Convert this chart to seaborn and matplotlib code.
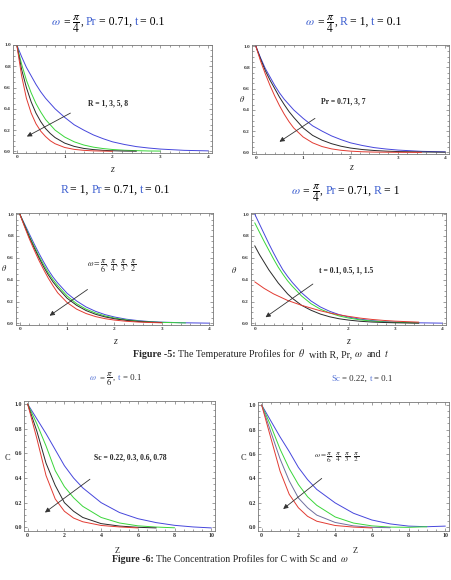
import numpy as np
import pandas as pd
import matplotlib
matplotlib.use("Agg")
import matplotlib.pyplot as plt
from matplotlib.ticker import FormatStrFormatter
import seaborn as sns

# ---------------- data ----------------
z_theta = [0, 0.1, 0.2, 0.3, 0.4, 0.5, 0.6, 0.7, 0.8, 1.0, 1.2, 1.4, 1.6, 1.8,
           2.0, 2.25, 2.5, 2.75, 3.0, 3.5, 4.0]

# panel 1 : R = 1, 3, 5, 8
p1_blue = [1.0, 0.89, 0.79, 0.71, 0.63, 0.56, 0.50, 0.45, 0.40, 0.32, 0.25, 0.20,
           0.155, 0.12, 0.09, 0.065, 0.045, 0.032, 0.022, 0.01, 0.005]
p1_green = [1.0, 0.82, 0.67, 0.55, 0.45, 0.37, 0.30, 0.25, 0.20, 0.135, 0.09,
            0.06, 0.04, 0.027, 0.018, 0.011, 0.007, 0.004, 0.003]
p1_black = [1.0, 0.77, 0.60, 0.465, 0.36, 0.28, 0.215, 0.168, 0.13, 0.078, 0.047,
            0.028, 0.017, 0.01, 0.006, 0.003, 0.002]
p1_red = [1.0, 0.71, 0.50, 0.36, 0.26, 0.19, 0.14, 0.10, 0.072, 0.037, 0.019,
          0.01, 0.005, 0.003, 0.001]

# panel 2 : Pr = 0.71, 3, 7
p2_blue = p1_blue
p2_black = [1.0, 0.88, 0.77, 0.68, 0.60, 0.52, 0.45, 0.385, 0.33, 0.23, 0.16,
            0.115, 0.082, 0.058, 0.041, 0.027, 0.018, 0.012, 0.008, 0.004, 0.002]
p2_red = [1.0, 0.86, 0.74, 0.63, 0.53, 0.44, 0.36, 0.29, 0.23, 0.145, 0.09,
          0.055, 0.033, 0.02, 0.012, 0.006, 0.003, 0.002, 0.001, 0.0]

# panel 3 : omega = pi/6, pi/4, pi/3, pi/2
p3_blue = [1.0, 0.91, 0.82, 0.73, 0.645, 0.565, 0.49, 0.425, 0.37, 0.275, 0.205,
           0.15, 0.11, 0.08, 0.058, 0.038, 0.025, 0.016, 0.011, 0.005, 0.002]
p3_green = [1.0, 0.90, 0.80, 0.71, 0.62, 0.54, 0.465, 0.40, 0.345, 0.25, 0.18,
            0.13, 0.095, 0.068, 0.049, 0.032, 0.021, 0.013, 0.009, 0.004]
p3_black = [1.0, 0.895, 0.79, 0.695, 0.605, 0.52, 0.445, 0.38, 0.325, 0.23,
            0.165, 0.117, 0.083, 0.059, 0.042, 0.027, 0.017, 0.011, 0.007]
p3_red = [1.0, 0.885, 0.775, 0.675, 0.58, 0.495, 0.415, 0.345, 0.28, 0.19, 0.13,
          0.09, 0.062, 0.043, 0.03, 0.019, 0.012, 0.008, 0.005]

# panel 4 : t = 0.1, 0.5, 1, 1.5
p4_blue = [1.0, 0.91, 0.82, 0.73, 0.645, 0.565, 0.49, 0.43, 0.375, 0.28, 0.205,
           0.15, 0.11, 0.08, 0.058, 0.038, 0.025, 0.016, 0.011, 0.005, 0.002]
p4_green = [0.92, 0.835, 0.75, 0.67, 0.59, 0.515, 0.45, 0.39, 0.34, 0.25, 0.18,
            0.13, 0.095, 0.068, 0.049, 0.032, 0.021, 0.013, 0.009, 0.004]
p4_black = [0.71, 0.63, 0.56, 0.49, 0.43, 0.37, 0.32, 0.27, 0.23, 0.165, 0.12,
            0.085, 0.06, 0.042, 0.03, 0.019, 0.012, 0.008, 0.005, 0.002]
p4_red = [0.38, 0.35, 0.32, 0.295, 0.27, 0.25, 0.23, 0.21, 0.195, 0.165, 0.14,
          0.115, 0.095, 0.078, 0.064, 0.048, 0.036, 0.027, 0.02, 0.011]

z_conc = [0, 0.5, 1, 1.5, 2, 2.5, 3, 4, 5, 6, 7, 8, 9, 10]

# panel 5 : Sc = 0.22, 0.3, 0.6, 0.78
p5_blue = [1.0, 0.88, 0.76, 0.63, 0.50, 0.40, 0.32, 0.20, 0.12, 0.07, 0.038,
           0.016, 0.003, -0.005]
p5_green = [1.0, 0.84, 0.66, 0.46, 0.33, 0.24, 0.17, 0.08, 0.035, 0.012, 0.002, -0.004]
p5_black = [1.0, 0.78, 0.52, 0.34, 0.20, 0.13, 0.08, 0.03, 0.01, 0.0, -0.005]
p5_red = [1.0, 0.72, 0.42, 0.23, 0.13, 0.075, 0.045, 0.015, 0.003, -0.005]

# panel 6 : omega = pi/6, pi/4, pi/3, pi/2
p6_blue = [1.0, 0.87, 0.74, 0.62, 0.49, 0.39, 0.31, 0.20, 0.115, 0.06, 0.028,
           0.01, 0.005, 0.01]
p6_green = [1.0, 0.83, 0.64, 0.48, 0.35, 0.25, 0.18, 0.085, 0.035, 0.012, 0.002, 0.0, 0.005]
p6_slate = [1.0, 0.78, 0.56, 0.38, 0.24, 0.16, 0.10, 0.04, 0.012, 0.0, -0.003]
p6_red = [1.0, 0.73, 0.46, 0.27, 0.16, 0.09, 0.05, 0.015, 0.002, -0.005]

RED, BLACK, GREEN, BLUE, SLATE = "#e23b32", "#2a2a2a", "#3ad63a", "#4646dc", "#6f6f9e"
TBLUE = "#3d5fd0"

# ---------------- style ----------------
sns.set_theme(style="ticks")
plt.rcParams['font.family'] = ['Liberation Serif', 'DejaVu Serif']
plt.rcParams['mathtext.fontset'] = 'stix'

W, H = 452, 580
fig = plt.figure(figsize=(W / 100, H / 100), dpi=100)
fig.patch.set_facecolor("white")


def add_ax(l, t, r, b):
    return fig.add_axes([l / W, 1 - b / H, (r - l) / W, (b - t) / H])


def frame(ax, xlim, ylim, xmaj, xmin, ymaj, ymin, fs, xfmt='%d'):
    ax.set_xlim(*xlim)
    ax.set_ylim(*ylim)
    ax.set_xticks(xmaj)
    ax.set_xticks(xmin, minor=True)
    ax.set_yticks(ymaj)
    ax.set_yticks(ymin, minor=True)
    ax.xaxis.set_major_formatter(FormatStrFormatter(xfmt))
    ax.yaxis.set_major_formatter(FormatStrFormatter('%.1f'))
    ax.tick_params(which='both', direction='in', top=True, right=True,
                   width=0.4, color='#555555', labelsize=fs, pad=1.5,
                   labelcolor='#333333')
    ax.tick_params(which='major', length=2.4)
    ax.tick_params(which='minor', length=1.2)
    for s in ax.spines.values():
        s.set_linewidth(0.6)
        s.set_color('#777777')
    ax.set_xlabel("")
    ax.set_ylabel("")
    for lab in ax.get_xticklabels() + ax.get_yticklabels():
        lab.set_fontweight('bold')


def curves(ax, z, series):
    for vals, col in series:
        sns.lineplot(x=z[:len(vals)], y=vals, color=col, lw=0.7, ax=ax,
                     estimator=None, sort=False, legend=False)


def arrow(ax, start, end):
    ax.annotate('', xy=end, xytext=start,
                arrowprops=dict(arrowstyle='-|>', color='#333333', lw=0.6,
                                mutation_scale=7, shrinkA=0, shrinkB=0))


def color_text(xc, yb, pieces, size, **kw):
    r = fig.canvas.get_renderer()
    items = []
    for p in pieces:
        s, opts = p[0], dict(p[1]) if len(p) > 1 else {}
        gap = opts.pop('gap', 2.4)
        t = fig.text(0, 0, s, fontsize=size, va='baseline', ha='left',
                     **{**kw, **opts})
        items.append((t, t.get_window_extent(r).width, gap))
    total = sum(w for _, w, _ in items) + sum(g for _, _, g in items[1:])
    x = xc - total / 2
    for i, (t, w, g) in enumerate(items):
        if i:
            x += g
        t.set_position((x / W, 1 - yb / H))
        x += w


B = dict(color=TBLUE)
K = dict(color='black')
frac4 = r'$\dfrac{\pi}{4}$'
omegas = r'$\omega = \dfrac{\pi}{6},\ \dfrac{\pi}{4},\ \dfrac{\pi}{3},\ \dfrac{\pi}{2}$'

xth = dict(xlim=(-0.08, 4.08), xmaj=[0, 1, 2, 3, 4], xmin=np.arange(0, 4.01, 0.2),
           ymaj=np.arange(0, 1.01, 0.2), ymin=np.arange(0, 1.01, 0.05), fs=3.8)

# ---------------- panel 1 ----------------
ax1 = add_ax(13, 45, 212, 153)
curves(ax1, z_theta, [(p1_blue, BLUE), (p1_green, GREEN), (p1_black, BLACK), (p1_red, RED)])
frame(ax1, ylim=(-0.015, 1.0), **xth)
arrow(ax1, (1.12, 0.36), (0.21, 0.14))
ax1.text(1.9, 0.45, "R = 1, 3, 5, 8", fontsize=5.5, fontweight='bold', ha='center', va='center')
color_text(108, 25, [(r'$\omega$', B), ('=', K), (frac4, K), (',', dict(gap=0)), ('Pr', B),
                     ('= 0.71,', K), ('t', B), ('= 0.1', K)], 8.5)
fig.text(112 / W, 1 - 169 / H, 'z', fontsize=7, style='italic', ha='center', va='center')

# ---------------- panel 2 ----------------
ax2 = add_ax(252, 45, 449, 154)
curves(ax2, z_theta, [(p2_blue, BLUE), (p2_black, BLACK), (p2_red, RED)])
frame(ax2, ylim=(-0.015, 1.01), **xth)
arrow(ax2, (1.25, 0.32), (0.5, 0.10))
ax2.text(1.85, 0.48, "Pr = 0.71, 3, 7", fontsize=5.5, fontweight='bold', ha='center', va='center')
color_text(353, 25, [(r'$\omega$', B), ('=', K), (frac4, K), (',', dict(gap=0)), ('R', B),
                     ('= 1,', K), ('t', B), ('= 0.1', K)], 8.5)
fig.text(351 / W, 1 - 168 / H, 'z', fontsize=7, style='italic', ha='center', va='center')
fig.text(242 / W, 1 - 99 / H, r'$\theta$', fontsize=6, ha='center', va='center')

# ---------------- panel 3 ----------------
ax3 = add_ax(16, 213, 213, 325)
curves(ax3, z_theta, [(p3_blue, BLUE), (p3_green, GREEN), (p3_black, BLACK), (p3_red, RED)])
frame(ax3, ylim=(-0.015, 1.01), **xth)
arrow(ax3, (1.43, 0.31), (0.63, 0.07))
ax3.text(1.95, 0.52, omegas, fontsize=5.8, ha='center', va='center')
color_text(115, 193, [('R', B), ('= 1,', K), ('Pr', B), ('= 0.71,', K), ('t', B), ('= 0.1', K)], 8.5)
fig.text(115 / W, 1 - 341 / H, 'z', fontsize=7, style='italic', ha='center', va='center')
fig.text(4 / W, 1 - 268 / H, r'$\theta$', fontsize=6, ha='center', va='center')

# ---------------- panel 4 ----------------
ax4 = add_ax(251, 213, 446, 325)
curves(ax4, z_theta, [(p4_blue, BLUE), (p4_green, GREEN), (p4_black, BLACK), (p4_red, RED)])
frame(ax4, ylim=(-0.015, 1.01), **xth)
arrow(ax4, (1.24, 0.36), (0.23, 0.056))
ax4.text(1.95, 0.48, "t = 0.1, 0.5, 1, 1.5", fontsize=5.5, fontweight='bold', ha='center', va='center')
color_text(345, 194, [(r'$\omega$', B), ('=', K), (frac4, K), (',', dict(gap=0)), ('Pr', B),
                      ('= 0.71,', K), ('R', B), ('= 1', K)], 8.5)
fig.text(348 / W, 1 - 342 / H, 'z', fontsize=7, style='italic', ha='center', va='center')
fig.text(234 / W, 1 - 270 / H, r'$\theta$', fontsize=6, ha='center', va='center')

# caption 5
color_text(261, 357, [('Figure -5:', dict(fontweight='bold')), ('The Temperature Profiles for', {}),
                      (r'$\theta$', dict(gap=3)), ('with R, Pr,', dict(gap=4)), (r'$\omega$', {}),
                      ('and', dict(gap=4)), (r'$t$', {})], 7.2)

xc = dict(xlim=(-0.2, 10.2), xmaj=[0, 2, 4, 6, 8, 10], xmin=np.arange(0, 10.01, 0.5),
          ymaj=np.arange(0, 1.01, 0.2), ymin=np.arange(0, 1.01, 0.05), fs=4.2)

# ---------------- panel 5 ----------------
ax5 = add_ax(24, 401, 215, 531)
curves(ax5, z_conc, [(p5_blue, BLUE), (p5_green, GREEN), (p5_black, BLACK), (p5_red, RED)])
frame(ax5, ylim=(-0.03, 1.025), **xc)
arrow(ax5, (3.39, 0.39), (0.94, 0.12))
ax5.text(5.6, 0.57, "Sc = 0.22, 0.3, 0.6, 0.78", fontsize=5.5, fontweight='bold', ha='center', va='center')
color_text(115, 380, [(r'$\omega$', B), ('=', K), (r'$\dfrac{\pi}{6}$', K), (',', dict(gap=0)),
                      ('t', B), ('= 0.1', K)], 6.3, alpha=0.85)
fig.text(117 / W, 1 - 551 / H, 'Z', fontsize=6, ha='center', va='center')
fig.text(7 / W, 1 - 458 / H, 'C', fontsize=6, ha='center', va='center')

# ---------------- panel 6 ----------------
ax6 = add_ax(258, 402, 449, 531)
curves(ax6, z_conc, [(p6_blue, BLUE), (p6_green, GREEN), (p6_slate, SLATE), (p6_red, RED)])
frame(ax6, ylim=(-0.03, 1.025), **xc)
arrow(ax6, (3.27, 0.40), (1.17, 0.15))
ax6.text(4.1, 0.57, omegas, fontsize=5.2, ha='center', va='center')
color_text(362, 381, [('Sc', B), ('= 0.22,', K), ('t', B), ('= 0.1', K)], 6.3, alpha=0.85)
fig.text(355 / W, 1 - 551 / H, 'Z', fontsize=6, ha='center', va='center')
fig.text(243 / W, 1 - 458 / H, 'C', fontsize=6, ha='center', va='center')

# caption 6
color_text(230, 562, [('Figure -6:', dict(fontweight='bold')),
                      ('The Concentration Profiles for C with Sc and', {}),
                      (r'$\omega$', dict(gap=3))], 7.1)

fig.savefig("out.png", dpi=100, facecolor="white")
